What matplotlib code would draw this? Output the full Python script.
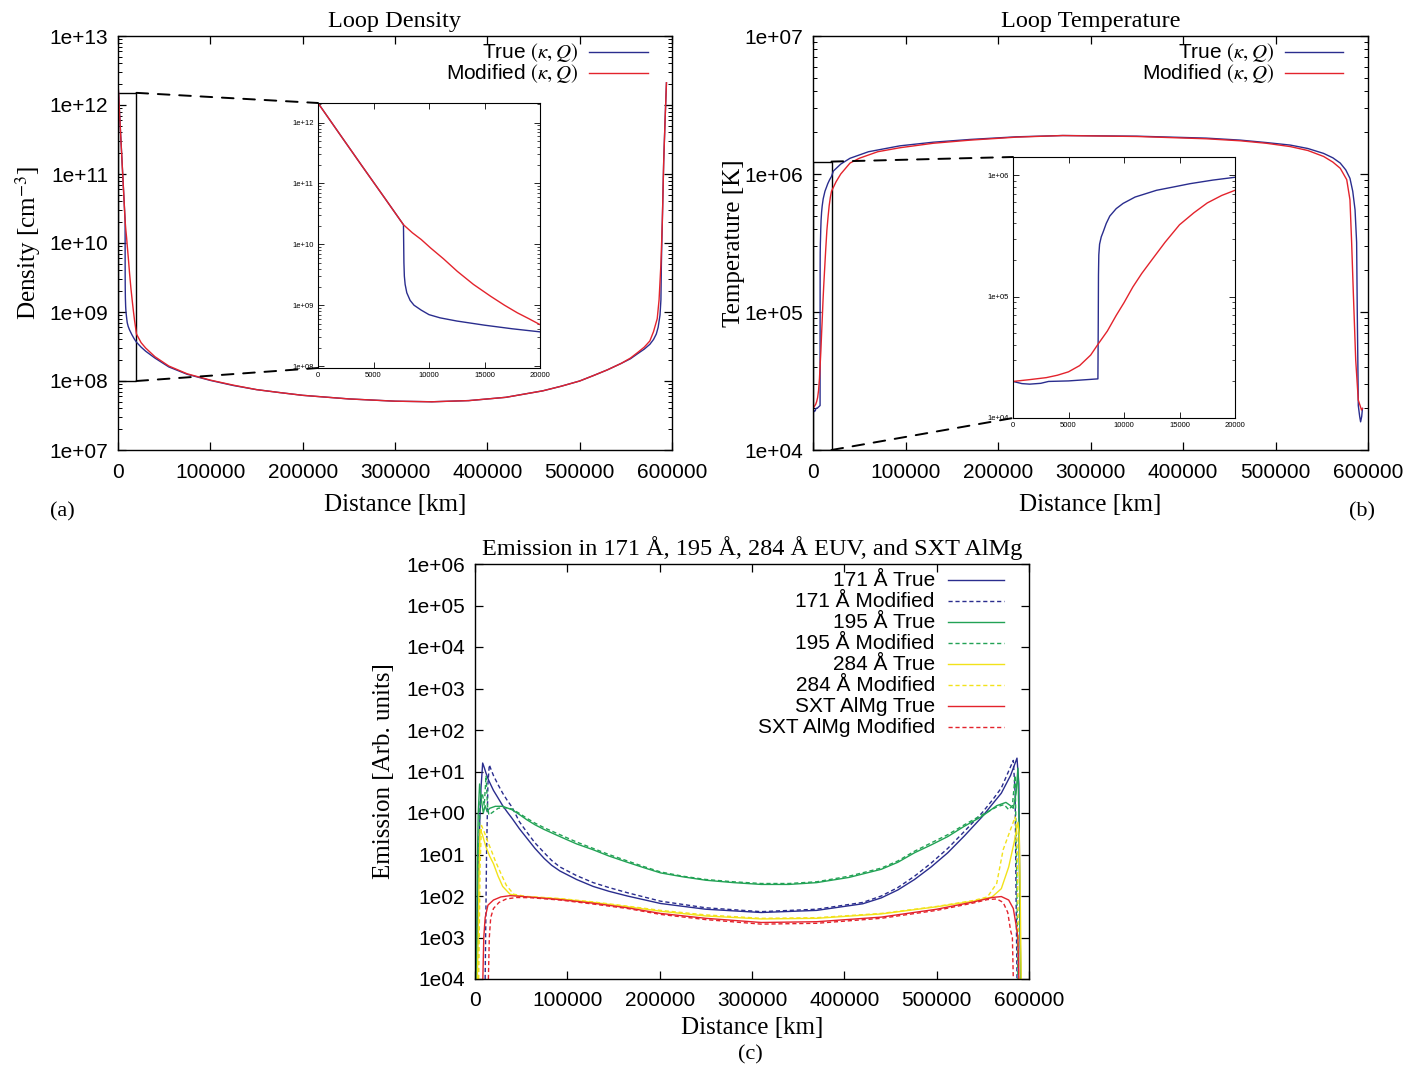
import matplotlib
matplotlib.use("Agg")
import matplotlib.pyplot as plt
from matplotlib.patches import Rectangle, ConnectionPatch
from matplotlib.ticker import FixedLocator, NullLocator

# ---------------- data ----------------
# (a) loop density [cm^-3] vs distance [km]
dens_x_true = [0, 2000, 4000, 6000, 7700, 7720, 7740, 7780, 7850, 8000, 8300, 8650, 9300,
               10000, 11000, 12500, 15000, 17500, 20000, 25000, 30000, 40000, 55000,
               75000, 100000, 125000, 150000, 175000, 200000, 250000, 300000, 340000,
               380000, 420000, 460000, 480000, 500000, 515000, 530000, 545000, 555000,
               563000, 570000, 576000, 580000, 583000, 585000, 587000, 588000, 588500,
               589500, 591000, 592500, 594000]
dens_true = [2.1e12, 6.3e11, 1.9e11, 5.8e10, 2.1e10, 1e10, 5e9, 3e9, 2.2e9, 1.6e9, 1.2e9,
             1.0e9, 8.3e8, 7e8, 6.2e8, 5.5e8, 4.7e8, 4.1e8, 3.65e8, 3.1e8, 2.7e8, 2.15e8,
             1.6e8, 1.25e8, 1.02e8, 8.6e7, 7.5e7, 6.8e7, 6.2e7, 5.5e7, 5.1e7, 5.0e7,
             5.2e7, 5.8e7, 7.2e7, 8.4e7, 1.0e8, 1.2e8, 1.45e8, 1.8e8, 2.1e8,
             2.5e8, 2.9e8, 3.4e8, 4.0e8, 4.8e8, 6.0e8, 9e8, 1.5e9, 5e9,
             2e10, 1.5e11, 6e11, 2.1e12]
dens_x_mod = [0, 2000, 4000, 6000, 7700, 8500, 9300, 10150, 11300, 12550, 14000, 15560,
              16800, 17960, 19000, 20000, 25000, 30000, 40000, 55000, 75000, 100000,
              125000, 150000, 175000, 200000, 250000, 300000, 340000, 380000, 420000,
              460000, 480000, 500000, 515000, 530000, 545000, 555000, 563000, 570000,
              576000, 580000, 584000, 586000, 588000, 589500, 591000, 592500, 594000]
dens_mod = [2.1e12, 6.3e11, 1.9e11, 5.8e10, 2.1e10, 1.55e10, 1.2e10, 8.7e9, 5.8e9, 3.6e9,
            2.2e9, 1.4e9, 1.0e9, 7.5e8, 6e8, 4.8e8, 3.6e8, 3.0e8, 2.25e8, 1.65e8, 1.27e8,
            1.03e8, 8.7e7, 7.5e7, 6.8e7, 6.2e7, 5.5e7, 5.1e7, 5.0e7, 5.2e7, 5.8e7,
            7.2e7, 8.4e7, 1.0e8, 1.2e8, 1.45e8, 1.8e8, 2.15e8, 2.6e8, 3.1e8,
            3.8e8, 5.2e8, 8e8, 1.5e9, 5e9, 2e10, 1.5e11, 6e11, 2.1e12]

# (b) loop temperature [K]
temp_x_true = [0, 800, 1500, 2500, 3200, 5000, 7650, 7680, 7700, 7730, 7800, 7950, 8120,
               8400, 8720, 9300, 9920, 11000, 12930, 14500, 15940, 18000, 20000, 22000,
               30000, 40000, 60000, 94000, 130000, 170000, 220000, 270000, 350000,
               425000, 462000, 490000, 516000, 535000, 552000, 562000, 570000, 576000,
               580500, 583500, 586000, 587700, 588400, 589000, 589500, 591000, 592000,
               593200, 594000]
temp_true = [2.0e4, 1.92e4, 1.9e4, 1.93e4, 2.0e4, 2.02e4, 2.1e4, 6e4, 1.5e5, 2.2e5, 2.7e5,
             3.1e5, 3.4e5, 4.0e5, 4.6e5, 5.3e5, 5.85e5, 6.6e5, 7.5e5, 8.0e5, 8.5e5, 9.1e5,
             9.6e5, 1.05e6, 1.18e6, 1.3e6, 1.45e6, 1.6e6, 1.7e6, 1.78e6, 1.86e6, 1.9e6,
             1.88e6, 1.82e6, 1.76e6, 1.69e6, 1.62e6, 1.53e6, 1.41e6, 1.31e6, 1.2e6,
             1.07e6, 9.3e5, 7.5e5, 5.5e5, 3.2e5, 1.0e5, 4.5e4, 2.1e4, 1.75e4, 1.6e4,
             1.75e4, 2.0e4]
temp_x_mod = [0, 1500, 3000, 4000, 5000, 6000, 7000, 7700, 8500, 9300, 10000, 10800,
              11600, 12500, 13700, 15000, 16300, 17500, 18800, 20000, 25000, 30000,
              40000, 50000, 70000, 94000, 130000, 170000, 220000, 270000, 350000,
              425000, 462000, 490000, 516000, 535000, 552000, 562000, 570000, 577000,
              580500, 582300, 584100, 586700, 589500, 593000, 594000]
temp_mod = [2.0e4, 2.07e4, 2.15e4, 2.25e4, 2.4e4, 2.7e4, 3.3e4, 4.1e4, 5.2e4, 7.0e4,
            8.9e4, 1.2e5, 1.55e5, 2.0e5, 2.8e5, 3.9e5, 4.9e5, 5.9e5, 6.8e5, 7.5e5,
            8.8e5, 1.0e6, 1.2e6, 1.3e6, 1.45e6, 1.55e6, 1.67e6, 1.76e6, 1.85e6, 1.9e6,
            1.87e6, 1.8e6, 1.74e6, 1.67e6, 1.58e6, 1.48e6, 1.34e6, 1.22e6, 1.1e6,
            9.1e5, 6.5e5, 3.2e5, 1.4e5, 4.5e4, 2.3e4, 1.95e4, 2.0e4]

# (c) emission [arb. units]
e171_x_true = [1500, 3000, 5000, 6500, 8300, 10000, 12000, 15000, 20000, 25000, 30000,
               35000, 40000, 48000, 56000, 65000, 75000, 83000, 92000, 110000, 128000,
               145000, 165000, 201000, 250000, 310000, 370000, 420000, 440000, 458000,
               476000, 494000, 512000, 530000, 549000, 560000, 570000, 580000, 587000,
               589000, 590000, 591000]
e171_true = [1e-4, 1e-2, 0.5, 4, 16, 12.5, 9, 6, 3.5, 2.3, 1.5, 1.05, 0.75, 0.42, 0.25,
             0.14, 0.08, 0.055, 0.04, 0.025, 0.017, 0.013, 0.01, 0.0066, 0.0048, 0.004,
             0.0045, 0.0065, 0.009, 0.014, 0.025, 0.05, 0.11, 0.28, 0.8, 1.6, 3, 8, 21,
             5, 1e-2, 1e-4]
e171_x_mod = [11000, 12500, 14000, 15500, 17500, 20000, 25000, 30000, 35000, 40000,
              48000, 56000, 65000, 75000, 83000, 92000, 110000, 128000, 145000, 165000,
              201000, 250000, 310000, 370000, 420000, 440000, 458000, 476000, 494000,
              512000, 530000, 549000, 560000, 570000, 583000, 585000, 586000, 587000]
e171_mod = [1e-4, 0.1, 5, 14.5, 11, 8, 4.8, 3, 2.0, 1.4, 0.62, 0.35, 0.19, 0.11, 0.072,
            0.05, 0.031, 0.021, 0.016, 0.012, 0.0075, 0.0052, 0.0042, 0.0048, 0.007,
            0.01, 0.016, 0.03, 0.062, 0.14, 0.36, 1.0, 2.0, 4, 18.5, 3, 1e-2, 1e-4]

e195_x_true = [1500, 2500, 3500, 5000, 7000, 9000, 11000, 13000, 16000, 22000, 30000,
               40000, 48000, 56000, 65000, 75000, 92000, 110000, 128000, 145000, 165000,
               183000, 201000, 225000, 250000, 280000, 310000, 340000, 370000, 405000,
               440000, 458000, 476000, 494000, 512000, 530000, 549000, 565000, 575000,
               580000, 583000, 586000, 588000, 589000, 590000, 591000]
e195_true = [1e-4, 0.05, 1, 5, 2, 1.0, 1.5, 1.1, 1.3, 1.45, 1.45, 1.2, 0.92, 0.69, 0.52,
             0.4, 0.27, 0.18, 0.13, 0.092, 0.065, 0.048, 0.036, 0.029, 0.024, 0.021,
             0.019, 0.019, 0.021, 0.028, 0.044, 0.065, 0.11, 0.17, 0.27, 0.48, 0.83, 1.5,
             1.8, 1.5, 1.3, 3, 12, 1, 1e-2, 1e-4]
e195_x_mod = [3000, 4000, 5500, 8000, 10000, 12000, 13500, 15000, 18000, 25000, 32000,
              40000, 48000, 56000, 65000, 75000, 92000, 110000, 128000, 145000, 165000,
              183000, 201000, 225000, 250000, 280000, 310000, 340000, 370000, 405000,
              440000, 458000, 476000, 494000, 512000, 530000, 549000, 565000, 573000,
              578000, 582000, 585000, 587000, 588000]
e195_mod = [1e-4, 0.1, 2, 3, 1.5, 8, 1.5, 0.9, 1.0, 1.3, 1.35, 1.25, 0.98, 0.75, 0.57,
            0.44, 0.3, 0.2, 0.14, 0.1, 0.07, 0.051, 0.038, 0.03, 0.025, 0.022, 0.02,
            0.02, 0.022, 0.03, 0.047, 0.07, 0.12, 0.19, 0.3, 0.52, 0.9, 1.4, 1.6, 1.2,
            1.5, 8, 1e-2, 1e-4]

e284_x_true = [2500, 3500, 4500, 5500, 8000, 12000, 16000, 20000, 25000, 30000, 38000,
               50000, 92000, 128000, 165000, 201000, 250000, 310000, 370000, 440000,
               500000, 540000, 560000, 570000, 578000, 584000, 588000, 589500, 590500,
               591500]
e284_true = [1e-4, 1e-3, 0.05, 0.4, 0.3, 0.15, 0.09, 0.06, 0.03, 0.017, 0.011, 0.0098,
             0.0085, 0.007, 0.0055, 0.0043, 0.0033, 0.0028, 0.0029, 0.0037, 0.0055,
             0.0075, 0.0095, 0.015, 0.05, 0.2, 0.6, 0.3, 1e-2, 1e-4]
e284_x_mod = [4000, 5500, 7000, 10000, 14000, 18000, 22000, 28000, 34000, 42000, 55000,
              92000, 128000, 165000, 201000, 250000, 310000, 370000, 440000, 500000,
              540000, 555000, 565000, 572000, 580000, 585000, 587000, 588000, 589000]
e284_mod = [1e-4, 0.05, 0.5, 0.35, 0.2, 0.12, 0.07, 0.035, 0.018, 0.011, 0.0098, 0.0087,
            0.0072, 0.0057, 0.0045, 0.0035, 0.0029, 0.003, 0.0038, 0.0056, 0.0078,
            0.0095, 0.02, 0.13, 0.4, 0.8, 0.3, 1e-2, 1e-4]

sxt_x_true = [8500, 9500, 11000, 14000, 20000, 28000, 38000, 50000, 92000, 128000,
              165000, 201000, 250000, 310000, 370000, 440000, 500000, 540000, 560000,
              570000, 578000, 583000, 586000, 588000, 589000]
sxt_true = [1e-4, 1e-3, 0.003, 0.006, 0.008, 0.0095, 0.0102, 0.0098, 0.0082, 0.0067,
            0.0052, 0.0038, 0.0029, 0.0023, 0.0024, 0.0031, 0.0048, 0.0072, 0.0092,
            0.0097, 0.008, 0.005, 0.002, 1e-3, 1e-4]
sxt_x_mod = [14500, 15500, 17000, 20000, 26000, 34000, 45000, 60000, 92000, 128000,
             165000, 201000, 250000, 310000, 370000, 440000, 500000, 540000, 555000,
             565000, 572000, 577000, 580000, 582000, 583000]
sxt_mod = [1e-4, 1e-3, 0.003, 0.005, 0.007, 0.0085, 0.0092, 0.0091, 0.008, 0.0064, 0.005,
           0.0036, 0.0027, 0.0021, 0.0022, 0.0029, 0.0045, 0.0068, 0.0082, 0.0085,
           0.007, 0.004, 0.0015, 1e-3, 1e-4]

# tick labels as printed on the figure
x_ticks = [0, 100000, 200000, 300000, 400000, 500000, 600000]
x_tick_labels = ["0", "100000", "200000", "300000", "400000", "500000", "600000"]
dens_ticks = [1e7, 1e8, 1e9, 1e10, 1e11, 1e12, 1e13]
dens_tick_labels = ["1e+07", "1e+08", "1e+09", "1e+10", "1e+11", "1e+12", "1e+13"]
temp_ticks = [1e4, 1e5, 1e6, 1e7]
temp_tick_labels = ["1e+04", "1e+05", "1e+06", "1e+07"]
em_ticks = [1e-4, 1e-3, 1e-2, 1e-1, 1e0, 1e1, 1e2, 1e3, 1e4, 1e5, 1e6]
em_tick_labels = ["1e04", "1e03", "1e02", "1e01", "1e+00", "1e+01", "1e+02", "1e+03",
                  "1e+04", "1e+05", "1e+06"]
ins_x_ticks = [0, 5000, 10000, 15000, 20000]
ins_x_labels = ["0", "5000", "10000", "15000", "20000"]
ins_dens_ticks = [1e8, 1e9, 1e10, 1e11, 1e12]
ins_dens_labels = ["1e+08", "1e+09", "1e+10", "1e+11", "1e+12"]
ins_temp_ticks = [1e4, 1e5, 1e6]
ins_temp_labels = ["1e+04", "1e+05", "1e+06"]

em_labels = ["171 Å True", "171 Å Modified", "195 Å True", "195 Å Modified",
             "284 Å True", "284 Å Modified", "SXT AlMg True", "SXT AlMg Modified"]

# ---------------- style ----------------
plt.rcParams["font.family"] = ["Liberation Sans", "DejaVu Sans"]
plt.rcParams["mathtext.fontset"] = "stix"
plt.rcParams["xtick.direction"] = "in"
plt.rcParams["ytick.direction"] = "in"
plt.rcParams["xtick.top"] = True
plt.rcParams["ytick.right"] = True
plt.rcParams["axes.linewidth"] = 1.0

BLUE = "#2a2d8e"
RED = "#e3232c"
GREEN = "#22a255"
YELLOW = "#f2e21a"
SERIF = "Liberation Serif"
DASH = (0, (3, 2))


def style_main(ax, yticks, ylabels, ylim, minor=True, xlabelpad=9):
    ax.set_yscale("log")
    ax.set_xlim(0, 600000)
    ax.set_ylim(*ylim)
    ax.xaxis.set_major_locator(FixedLocator(x_ticks))
    ax.set_xticklabels(x_tick_labels)
    ax.yaxis.set_major_locator(FixedLocator(yticks))
    ax.set_yticklabels(ylabels)
    if minor:
        minors = [m * t for t in yticks[:-1] for m in range(2, 10)]
        ax.yaxis.set_minor_locator(FixedLocator(minors))
    else:
        ax.yaxis.set_minor_locator(NullLocator())
    ax.xaxis.set_minor_locator(NullLocator())
    ax.tick_params(which="major", length=6, width=0.9, labelsize=15, pad=7)
    ax.tick_params(axis="x", which="major", pad=9)
    ax.tick_params(which="minor", length=3, width=0.7)
    ax.set_xlabel("Distance [km]", family=SERIF, fontsize=18, labelpad=xlabelpad)


def style_inset(ax, yticks, ylabels, ylim):
    ax.set_yscale("log")
    ax.set_xlim(0, 20000)
    ax.set_ylim(*ylim)
    ax.xaxis.set_major_locator(FixedLocator(ins_x_ticks))
    ax.set_xticklabels(ins_x_labels)
    ax.yaxis.set_major_locator(FixedLocator(yticks))
    ax.set_yticklabels(ylabels)
    minors = [m * t for t in yticks for m in range(2, 10)]
    ax.yaxis.set_minor_locator(FixedLocator(minors))
    ax.tick_params(which="major", length=4, width=0.6, labelsize=5.5, pad=3)
    ax.tick_params(which="minor", length=2, width=0.5)
    for s in ax.spines.values():
        s.set_linewidth(0.8)


def key(ax, labels, colors, styles, fs, y0, dy, xt, xl0, xl1):
    for i, (lab, c, ls) in enumerate(zip(labels, colors, styles)):
        y = y0 - i * dy
        ax.text(xt, y, lab, transform=ax.transAxes, ha="right", va="center", fontsize=fs)
        ax.plot([xl0, xl1], [y, y], transform=ax.transAxes, color=c, ls=ls, lw=1.0)


def zoom_box(fig, ax, ins, ytop, ybot):
    ax.add_patch(Rectangle((0, ybot), 20000, ytop - ybot, fill=False, ec="k", lw=1.0))
    for ya, yb in [(ytop, 1), (ybot, 0)]:
        con = ConnectionPatch(xyA=(20000, ya), coordsA="data", axesA=ax,
                              xyB=(0, yb), coordsB="axes fraction", axesB=ins,
                              color="k", lw=1.4, ls=(0, (6, 5)))
        fig.add_artist(con)


fig = plt.figure(figsize=(14.12, 10.75), dpi=100)
W, H = 1412, 1075


def px_axes(l, t, r, b):
    return fig.add_axes([l / W, 1 - b / H, (r - l) / W, (b - t) / H])


# ---------------- (a) density ----------------
ax_a = px_axes(118, 36, 672, 450)
ax_a.plot(dens_x_true, dens_true, color=BLUE, lw=1.0)
ax_a.plot(dens_x_mod, dens_mod, color=RED, lw=1.0)
style_main(ax_a, dens_ticks, dens_tick_labels, (1e7, 1e13))
ax_a.set_title("Loop Density", family=SERIF, fontsize=17.5, pad=6.5)
ax_a.set_ylabel("Density [cm$^{-3}$]", family=SERIF, fontsize=18, labelpad=5)
key(ax_a, ["True $(\\kappa,Q)$", "Modified $(\\kappa,Q)$"], [BLUE, RED], ["-", "-"],
    15, 0.961, 0.0507, 0.830, 0.850, 0.957)

ins_a = px_axes(318, 103, 540, 368)
ins_a.plot(dens_x_true, dens_true, color=BLUE, lw=1.0)
ins_a.plot(dens_x_mod, dens_mod, color=RED, lw=1.0)
style_inset(ins_a, ins_dens_ticks, ins_dens_labels, (9.3e7, 2.1e12))
zoom_box(fig, ax_a, ins_a, 1.5e12, 1e8)

# ---------------- (b) temperature ----------------
ax_b = px_axes(813, 36, 1368, 450)
ax_b.plot(temp_x_true, temp_true, color=BLUE, lw=1.0)
ax_b.plot(temp_x_mod, temp_mod, color=RED, lw=1.0)
style_main(ax_b, temp_ticks, temp_tick_labels, (1e4, 1e7))
ax_b.set_title("Loop Temperature", family=SERIF, fontsize=17.5, pad=6.5)
ax_b.set_ylabel("Temperature [K]", family=SERIF, fontsize=18, labelpad=0)
key(ax_b, ["True $(\\kappa,Q)$", "Modified $(\\kappa,Q)$"], [BLUE, RED], ["-", "-"],
    15, 0.961, 0.0507, 0.831, 0.850, 0.955)

ins_b = px_axes(1013, 157, 1235, 418)
ins_b.plot(temp_x_true, temp_true, color=BLUE, lw=1.0)
ins_b.plot(temp_x_mod, temp_mod, color=RED, lw=1.0)
style_inset(ins_b, ins_temp_ticks, ins_temp_labels, (1e4, 1.41e6))
zoom_box(fig, ax_b, ins_b, 1.23e6, 1e4)

# ---------------- (c) emission ----------------
ax_c = px_axes(475, 564, 1029, 979)
series = [
    (e171_x_true, e171_true, BLUE, "-"),
    (e171_x_mod, e171_mod, BLUE, DASH),
    (e195_x_true, e195_true, GREEN, "-"),
    (e195_x_mod, e195_mod, GREEN, DASH),
    (e284_x_true, e284_true, YELLOW, "-"),
    (e284_x_mod, e284_mod, YELLOW, DASH),
    (sxt_x_true, sxt_true, RED, "-"),
    (sxt_x_mod, sxt_mod, RED, DASH),
]
for xs, ys, c, ls in series:
    ax_c.plot(xs, ys, color=c, ls=ls, lw=1.0)
style_main(ax_c, em_ticks, em_tick_labels, (1e-4, 1e6), minor=False, xlabelpad=5)
ax_c.set_title("Emission in 171 Å, 195 Å, 284 Å EUV, and SXT AlMg", family=SERIF,
               fontsize=17.5, pad=6.5)
ax_c.set_ylabel("Emission [Arb. units]", family=SERIF, fontsize=18, labelpad=8)
key(ax_c, em_labels, [s[2] for s in series], [s[3] for s in series],
    15, 0.961, 0.0506, 0.830, 0.854, 0.955)

# panel tags
fig.text(62 / W, 1 - 512 / H, "(a)", family=SERIF, fontsize=16, ha="center", va="center")
fig.text(1362 / W, 1 - 512 / H, "(b)", family=SERIF, fontsize=16, ha="center", va="center")
fig.text(750 / W, 1 - 1055 / H, "(c)", family=SERIF, fontsize=16, ha="center", va="center")

fig.savefig("out.png", dpi=100)
